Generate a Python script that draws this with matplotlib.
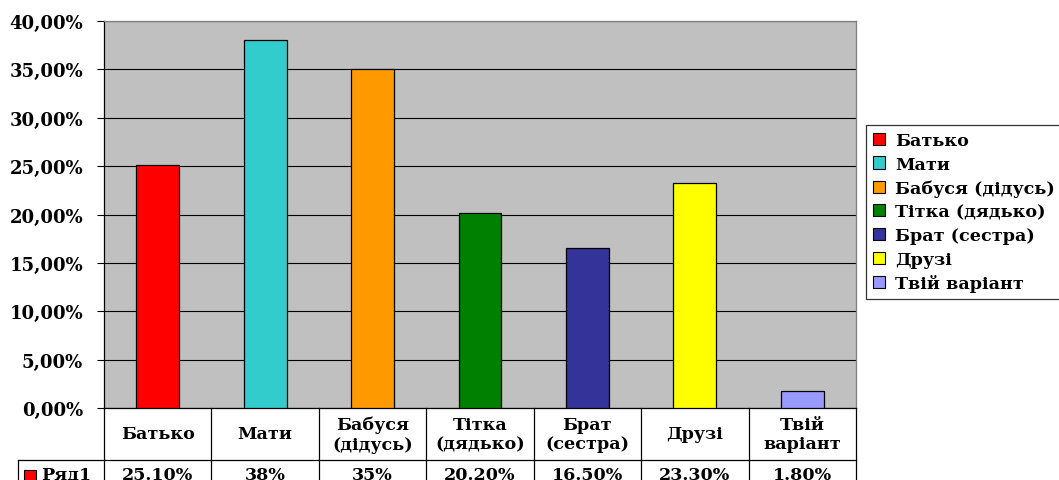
import matplotlib
matplotlib.use('Agg')
import matplotlib.pyplot as plt
import matplotlib.transforms as mtransforms
from matplotlib.patches import Rectangle
import numpy as np

# ---------------- data ----------------
categories = ['Батько', 'Мати', 'Бабуся (дідусь)', 'Тітка (дядько)',
              'Брат (сестра)', 'Друзі', 'Твій варіант']
header_labels = ['Батько', 'Мати', 'Бабуся\n(дідусь)', 'Тітка\n(дядько)',
                 'Брат\n(сестра)', 'Друзі', 'Твій\nваріант']
values = [25.10, 38.0, 35.0, 20.20, 16.50, 23.30, 1.80]
value_labels = ['25.10%', '38%', '35%', '20.20%', '16.50%', '23.30%', '1.80%']
series_name = 'Ряд1'
colors = ['#FF0000', '#33CCCC', '#FF9900', '#008000', '#333399', '#FFFF00', '#9999FF']
y_ticks = [0, 5, 10, 15, 20, 25, 30, 35, 40]

plt.rcParams['font.family'] = ['DejaVu Serif']
plt.rcParams['font.weight'] = 'bold'
FS = 12.6

W, H = 1059, 481
fig = plt.figure(figsize=(W / 100, H / 100), dpi=100)
ax = fig.add_axes([104 / W, (H - 409) / H, (856 - 104) / W, (409 - 22) / H])
ax.set_facecolor('#C0C0C0')

x = np.arange(len(categories))
bars = ax.bar(x, values, width=0.4, color=colors, edgecolor='black',
              linewidth=0.9, zorder=3)

ax.set_xlim(-0.5, len(categories) - 0.5)
ax.set_ylim(0, 40)
ax.set_yticks(y_ticks)
ax.set_yticklabels([f'{v:.2f}%'.replace('.', ',') for v in y_ticks])
ax.yaxis.grid(True, color='black', linewidth=0.8, zorder=1)
ax.set_axisbelow(True)
ax.tick_params(axis='y', direction='out', length=5, width=0.8, pad=10,
               labelsize=13)
ax.tick_params(axis='x', bottom=False, labelbottom=False)
for side in ['left', 'bottom']:
    ax.spines[side].set_color('black')
    ax.spines[side].set_linewidth(0.9)
for side in ['top', 'right']:
    ax.spines[side].set_color('#808080')
    ax.spines[side].set_linewidth(0.9)

# ---------------- data table below the axis ----------------
trans = mtransforms.blended_transform_factory(ax.transData, ax.transAxes)
px = 1 / 387.0  # axes units per pixel vertically
col_w = 752 / len(categories)
left_x = -0.5 - (104 - 18) / col_w
row1_bottom = -(461 - 409) * px
row2_bottom = -0.4

ax.plot([left_x, len(categories) - 0.5], [row1_bottom, row1_bottom],
        color='black', lw=0.9, transform=trans, clip_on=False)
for b in np.arange(len(categories) + 1) - 0.5:
    ax.plot([b, b], [0, row2_bottom], color='black', lw=0.9,
            transform=trans, clip_on=False)
ax.plot([left_x, left_x], [row1_bottom, row2_bottom], color='black', lw=0.9,
        transform=trans, clip_on=False)

for i, (lab, vl) in enumerate(zip(header_labels, value_labels)):
    ax.text(i, row1_bottom / 2, lab, ha='center', va='center',
            transform=trans, fontsize=FS, linespacing=1.2)
    ax.text(i, -(467 - 409) * px, vl, ha='center', va='top',
            transform=trans, fontsize=FS)

ax.text(-0.5 - (104 - 41) / col_w, -(467 - 409) * px, series_name,
        ha='left', va='top', transform=trans, fontsize=FS)
fig.patches.append(Rectangle((24 / W, (H - 482) / H), 12 / W, 11 / H,
                             transform=fig.transFigure, facecolor=colors[0],
                             edgecolor='black', linewidth=0.8))

# ---------------- legend ----------------
handles = [Rectangle((0, 0), 1, 1, facecolor=c, edgecolor='black', linewidth=0.8)
           for c in colors]
leg = fig.legend(handles, categories, loc='upper left',
                 bbox_to_anchor=(866 / W, 1 - 126 / H),
                 bbox_transform=fig.transFigure, frameon=True, fancybox=False,
                 edgecolor='black', handlelength=0.7, handleheight=0.7,
                 handletextpad=0.55, labelspacing=0.38, borderpad=0.4,
                 borderaxespad=0, fontsize=FS)
leg.get_frame().set_linewidth(0.9)

fig.savefig('out.png', dpi=100, facecolor='white')
